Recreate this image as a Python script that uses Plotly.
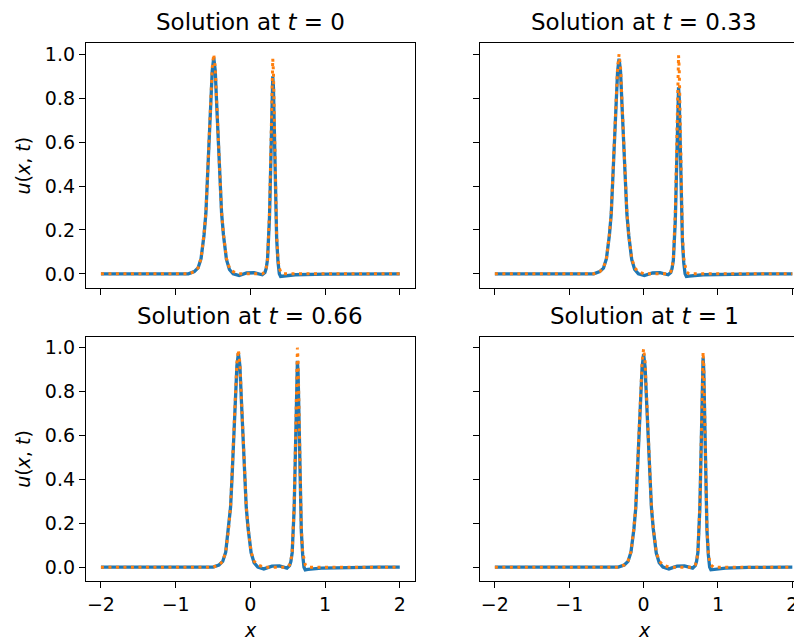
import plotly.graph_objects as go

# ---------------- data ----------------
titles = ["0", "0.33", "0.66", "1"]
x_ticks = [-2, -1, 0, 1, 2]
x_tick_text = ["\u22122", "\u22121", "0", "1", "2"]
y_ticks = [0.0, 0.2, 0.4, 0.6, 0.8, 1.0]
y_tick_text = ["0.0", "0.2", "0.4", "0.6", "0.8", "1.0"]

x_t0 = [-2.0, -0.83, -0.75, -0.70, -0.66, -0.62, -0.595, -0.575, -0.555, -0.53, -0.51, -0.49,
        -0.47, -0.45, -0.425, -0.405, -0.385, -0.36, -0.32, -0.28, -0.23, -0.15, -0.05, 0.05,
        0.16, 0.195, 0.212, 0.23, 0.248, 0.256, 0.265, 0.274, 0.282, 0.291, 0.30, 0.309, 0.318,
        0.326, 0.335, 0.344, 0.352, 0.37, 0.388, 0.405, 0.44, 0.6, 1.0, 1.4, 2.0]
exact_t0 = [0, 0, 0.01, 0.027, 0.07, 0.18, 0.28, 0.42, 0.59, 0.78, 0.94, 1.0, 0.94, 0.78, 0.59,
            0.42, 0.28, 0.18, 0.07, 0.027, 0.01, 0, 0, 0,
            0, 0.01, 0.026, 0.069, 0.176, 0.274, 0.412, 0.578, 0.764, 0.921, 0.98, 0.921, 0.764,
            0.578, 0.412, 0.274, 0.176, 0.069, 0.026, 0.01, 0, 0, 0, 0, 0]
pred_t0 = [0, 0, 0.01, 0.027, 0.069, 0.177, 0.276, 0.414, 0.581, 0.768, 0.926, 0.985, 0.926, 0.768,
           0.581, 0.414, 0.276, 0.177, 0.066, 0.02, 0.0, -0.008, 0.004, 0.005,
           -0.004, 0.006, 0.025, 0.066, 0.165, 0.255, 0.38, 0.535, 0.71, 0.85, 0.90, 0.85, 0.71,
           0.535, 0.38, 0.255, 0.16, 0.055, 0.0, -0.012, -0.01, -0.004, -0.001, 0, 0]

x_t033 = [-2.0, -0.67, -0.59, -0.54, -0.50, -0.46, -0.435, -0.415, -0.395, -0.37, -0.35, -0.33,
          -0.31, -0.29, -0.265, -0.245, -0.225, -0.20, -0.16, -0.12, -0.07, 0.01, 0.12, 0.22,
          0.33, 0.365, 0.382, 0.40, 0.418, 0.426, 0.435, 0.444, 0.452, 0.461, 0.47, 0.479, 0.488,
          0.496, 0.505, 0.514, 0.522, 0.54, 0.558, 0.575, 0.61, 0.8, 1.2, 1.6, 2.0]
exact_t033 = [0, 0, 0.01, 0.027, 0.07, 0.18, 0.28, 0.42, 0.59, 0.78, 0.94, 1.0, 0.94, 0.78, 0.59,
              0.42, 0.28, 0.18, 0.07, 0.027, 0.01, 0, 0, 0,
              0, 0.01, 0.027, 0.07, 0.179, 0.279, 0.418, 0.587, 0.776, 0.935, 0.995, 0.935, 0.776,
              0.587, 0.418, 0.279, 0.179, 0.07, 0.027, 0.01, 0, 0, 0, 0, 0]
pred_t033 = [0, 0, 0.01, 0.026, 0.069, 0.176, 0.274, 0.412, 0.578, 0.764, 0.921, 0.98, 0.921, 0.764,
             0.578, 0.412, 0.274, 0.176, 0.066, 0.02, 0.0, -0.008, 0.004, 0.005,
             -0.004, 0.006, 0.024, 0.062, 0.155, 0.24, 0.36, 0.505, 0.67, 0.80, 0.85, 0.80, 0.67,
             0.505, 0.36, 0.24, 0.15, 0.05, 0.0, -0.012, -0.01, -0.004, -0.001, 0, 0]

x_t066 = [-2.0, -0.50, -0.42, -0.37, -0.33, -0.29, -0.265, -0.245, -0.225, -0.20, -0.18, -0.16,
          -0.14, -0.12, -0.095, -0.075, -0.055, -0.03, 0.01, 0.05, 0.10, 0.18, 0.29, 0.39,
          0.49, 0.525, 0.542, 0.56, 0.578, 0.586, 0.595, 0.604, 0.612, 0.621, 0.63, 0.639, 0.648,
          0.656, 0.665, 0.674, 0.682, 0.70, 0.718, 0.735, 0.77, 0.95, 1.3, 1.7, 2.0]
exact_t066 = [0, 0, 0.01, 0.027, 0.069, 0.178, 0.277, 0.416, 0.584, 0.772, 0.931, 0.99, 0.931, 0.772,
              0.584, 0.416, 0.277, 0.178, 0.069, 0.027, 0.01, 0, 0, 0,
              0, 0.01, 0.027, 0.07, 0.18, 0.28, 0.42, 0.59, 0.78, 0.94, 1.0, 0.94, 0.78,
              0.59, 0.42, 0.28, 0.18, 0.07, 0.027, 0.01, 0, 0, 0, 0, 0]
pred_t066 = [0, 0, 0.01, 0.026, 0.068, 0.176, 0.273, 0.41, 0.575, 0.76, 0.917, 0.975, 0.917, 0.76,
             0.575, 0.41, 0.273, 0.176, 0.066, 0.02, 0.0, -0.008, 0.005, 0.006,
             -0.004, 0.007, 0.025, 0.066, 0.169, 0.263, 0.395, 0.555, 0.733, 0.884, 0.94, 0.884, 0.733,
             0.555, 0.395, 0.263, 0.165, 0.058, 0.0, -0.012, -0.01, -0.004, -0.001, 0, 0]

x_t1 = [-2.0, -0.34, -0.26, -0.21, -0.17, -0.13, -0.105, -0.085, -0.065, -0.04, -0.02, 0.0,
        0.02, 0.04, 0.065, 0.085, 0.105, 0.13, 0.17, 0.21, 0.26, 0.34, 0.45, 0.55,
        0.66, 0.695, 0.712, 0.73, 0.748, 0.756, 0.765, 0.774, 0.782, 0.791, 0.80, 0.809, 0.818,
        0.826, 0.835, 0.844, 0.852, 0.87, 0.888, 0.905, 0.94, 1.1, 1.4, 1.7, 2.0]
exact_t1 = [0, 0, 0.01, 0.027, 0.07, 0.179, 0.279, 0.418, 0.587, 0.776, 0.935, 0.995, 0.935, 0.776,
            0.587, 0.418, 0.279, 0.179, 0.07, 0.027, 0.01, 0, 0, 0,
            0, 0.01, 0.026, 0.069, 0.176, 0.274, 0.412, 0.578, 0.764, 0.921, 0.98, 0.921, 0.764,
            0.578, 0.412, 0.274, 0.176, 0.069, 0.026, 0.01, 0, 0, 0, 0, 0]
pred_t1 = [0, 0, 0.01, 0.026, 0.068, 0.175, 0.272, 0.407, 0.572, 0.757, 0.912, 0.97, 0.912, 0.757,
           0.572, 0.407, 0.272, 0.175, 0.065, 0.02, 0.0, -0.008, 0.005, 0.006,
           -0.004, 0.007, 0.026, 0.067, 0.172, 0.267, 0.401, 0.563, 0.745, 0.898, 0.955, 0.898, 0.745,
           0.563, 0.401, 0.267, 0.168, 0.058, 0.0, -0.012, -0.01, -0.004, -0.001, 0, 0]

xs = [x_t0, x_t033, x_t066, x_t1]
exacts = [exact_t0, exact_t033, exact_t066, exact_t1]
preds = [pred_t0, pred_t033, pred_t066, pred_t1]

# ---------------- layout ----------------
OFF = 8                      # page body margin
W, H = 802 - OFF, 644 - OFF
FONT = "DejaVu Sans"
BLUE = "#1f77b4"
ORANGE = "#ff7f0e"
TICK_SIZE = 19
TITLE_SIZE = 23


def fx(p):
    return (p - OFF) / W


def fy(p):
    return 1 - (p - OFF) / H


# pixel boxes in window coordinates: (left, right, top, bottom)
boxes = [(86, 414.7, 43.3, 287.7), (480, 802, 43.3, 287.7),
         (86, 414.7, 336.7, 581.0), (480, 802, 336.7, 581.0)]
x_ranges = [[-2.2, 2.2], [-2.2, 2.13], [-2.2, 2.2], [-2.2, 2.13]]
y_range = [-0.063, 1.05]

fig = go.Figure()
layout = dict(width=W, height=H, margin=dict(l=0, r=0, t=0, b=0),
              paper_bgcolor="white", plot_bgcolor="white", showlegend=False,
              font=dict(family=FONT, size=TICK_SIZE, color="black"))
annotations = []

for i in range(4):
    sfx = "" if i == 0 else str(i + 1)
    xa, ya = "x" + sfx, "y" + sfx
    fig.add_trace(go.Scatter(x=xs[i], y=preds[i], mode="lines", xaxis=xa, yaxis=ya,
                             line=dict(color=BLUE, width=3.3), hoverinfo="skip"))
    fig.add_trace(go.Scatter(x=xs[i], y=exacts[i], mode="lines", xaxis=xa, yaxis=ya,
                             line=dict(color=ORANGE, width=3, dash="3px,4.5px"), hoverinfo="skip"))
    l, r, t, b = boxes[i]
    right_col = i % 2 == 1
    top_row = i < 2
    layout["xaxis" + sfx] = dict(
        domain=[fx(l), min(fx(r), 1.0)], anchor=ya, range=x_ranges[i],
        tickvals=x_ticks, ticktext=x_tick_text, showticklabels=not top_row,
        ticks="outside", ticklen=6, tickwidth=1.3, tickcolor="black",
        showline=True, linecolor="black", linewidth=1.3, mirror=True,
        showgrid=False, zeroline=False, tickfont=dict(size=TICK_SIZE, family=FONT))
    layout["yaxis" + sfx] = dict(
        domain=[fy(b), fy(t)], anchor=xa, range=y_range,
        tickvals=y_ticks, ticktext=y_tick_text, showticklabels=not right_col,
        ticks="outside", ticklen=6, tickwidth=1.3, tickcolor="black",
        showline=True, linecolor="black", linewidth=1.3, mirror=not right_col,
        showgrid=False, zeroline=False, tickfont=dict(size=TICK_SIZE, family=FONT))
    cx = (l + (r if not right_col else 808.7)) / 2
    annotations.append(dict(text="Solution at <i>t</i> = " + titles[i], xref="paper", yref="paper",
                            x=fx(cx), y=fy(t - 21), xanchor="center", yanchor="middle",
                            showarrow=False, font=dict(size=TITLE_SIZE, family=FONT, color="black")))
    if not right_col:
        annotations.append(dict(text="<i>u</i>(<i>x</i>, <i>t</i>)", xref="paper", yref="paper",
                                x=fx(23), y=fy((t + b) / 2), xanchor="center", yanchor="middle",
                                textangle=-90, showarrow=False,
                                font=dict(size=TICK_SIZE, family=FONT, color="black")))
    if not top_row:
        annotations.append(dict(text="<i>x</i>", xref="paper", yref="paper",
                                x=fx(cx), y=fy(630), xanchor="center", yanchor="middle",
                                showarrow=False, font=dict(size=TICK_SIZE, family=FONT, color="black")))

layout["annotations"] = annotations
fig.update_layout(**layout)
fig.write_html("out.html")
